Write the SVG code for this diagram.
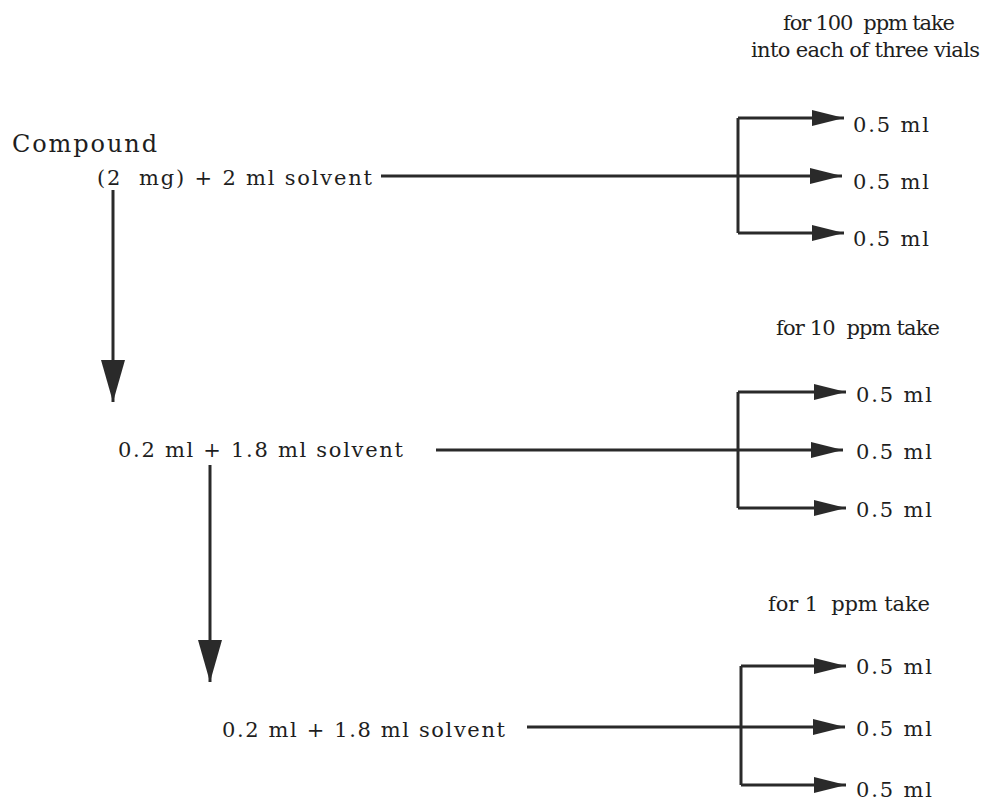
<svg xmlns="http://www.w3.org/2000/svg" width="984" height="802" viewBox="0 0 984 802">
<style>
text{font-family:"DejaVu Serif","Liberation Serif",serif;font-size:21px;fill:#1e1e1e;white-space:pre}
.big{font-size:24px}
.ln{stroke:#2a2a2a;stroke-width:3;fill:none}
</style>
<defs>
<marker id="ah" markerUnits="userSpaceOnUse" markerWidth="32" markerHeight="18" refX="32" refY="9" orient="auto"><path d="M0,1 L32,9 L0,17 Z" fill="#2a2a2a"/></marker>
<marker id="av" markerUnits="userSpaceOnUse" markerWidth="42" markerHeight="24" refX="42" refY="12" orient="auto"><path d="M0,0 L42,12 L0,24 Z" fill="#2a2a2a"/></marker>
</defs>
<rect width="984" height="802" fill="#fff"/>
<g id="header100"><text x="783" y="30" textLength="172">for 100  ppm take</text><text x="751" y="57" textLength="229">into each of three vials</text></g>
<g id="stock"><text class="big" x="12" y="152" textLength="145">Compound</text><text x="97" y="185" textLength="275">(2  mg) + 2 ml solvent</text></g>
<g id="dil1"><text x="118" y="457" textLength="285">0.2 ml + 1.8 ml solvent</text></g>
<g id="header10"><text x="776" y="335" textLength="164">for 10  ppm take</text></g>
<g id="dil2"><text x="222" y="737" textLength="283">0.2 ml + 1.8 ml solvent</text></g>
<g id="header1"><text x="768" y="611" textLength="162">for 1  ppm take</text></g>
<g id="vials100"><text x="853" y="132" textLength="76">0.5 ml</text><text x="853" y="189" textLength="76">0.5 ml</text><text x="853" y="246" textLength="76">0.5 ml</text></g>
<g id="vials10"><text x="856" y="402" textLength="76">0.5 ml</text><text x="856" y="459" textLength="76">0.5 ml</text><text x="856" y="517" textLength="76">0.5 ml</text></g>
<g id="vials1"><text x="856" y="674" textLength="76">0.5 ml</text><text x="856" y="736" textLength="76">0.5 ml</text><text x="856" y="797" textLength="76">0.5 ml</text></g>
<g id="connectors">
<path class="ln" d="M381,176 H842" marker-end="url(#ah)"/>
<path class="ln" d="M738,118 V233"/>
<path class="ln" d="M738,118 H844" marker-end="url(#ah)"/>
<path class="ln" d="M738,233 H844" marker-end="url(#ah)"/>
<path class="ln" d="M113,190 V402" marker-end="url(#av)"/>
<path class="ln" d="M436,450 H843" marker-end="url(#ah)"/>
<path class="ln" d="M738,392 V508"/>
<path class="ln" d="M738,392 H846" marker-end="url(#ah)"/>
<path class="ln" d="M738,508 H846" marker-end="url(#ah)"/>
<path class="ln" d="M210,465 V682" marker-end="url(#av)"/>
<path class="ln" d="M527,727 H845" marker-end="url(#ah)"/>
<path class="ln" d="M741,666 V785"/>
<path class="ln" d="M741,666 H846" marker-end="url(#ah)"/>
<path class="ln" d="M741,785 H846" marker-end="url(#ah)"/>
</g>
</svg>
